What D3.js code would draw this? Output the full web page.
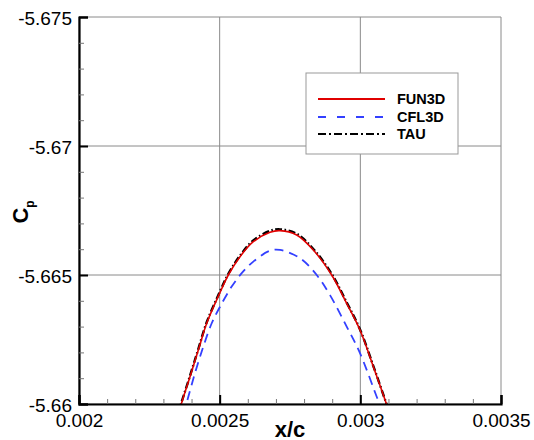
<!DOCTYPE html>
<html>
<head>
<meta charset="utf-8">
<script src="https://cdn.jsdelivr.net/npm/d3@7/dist/d3.min.js"></script>
<style>
  body { margin: 0; background: #fff; }
  svg { display: block; font-family: "Liberation Sans", Arial, Helvetica, sans-serif; }
</style>
</head>
<body>
<div id="chart"></div>
<script>
// data
var fun3dX = [0.002353, 0.002365, 0.0023946, 0.0024241, 0.0024539, 0.0024987, 0.0025307, 0.0025723, 0.0026196, 0.0026789, 0.0027145, 0.0027738, 0.0028328, 0.0028982, 0.0029515, 0.0029988, 0.0030461, 0.0030912, 0.003104];
var fun3dY = [-5.6596, -5.66005, -5.66106, -5.66209, -5.66313, -5.66426, -5.665, -5.66571, -5.66629, -5.66666, -5.66672, -5.66655, -5.66597, -5.665, -5.6639, -5.66287, -5.66145, -5.66005, -5.6596];

var cfl3dX = [0.002371, 0.0023828, 0.0024123, 0.0024418, 0.0024717, 0.0025012, 0.0025428, 0.0025783, 0.0026196, 0.0026789, 0.0027145, 0.0027855, 0.0028449, 0.0028922, 0.0029515, 0.0029988, 0.0030582, 0.0030664, 0.003071];
var cfl3dY = [-5.6596, -5.66005, -5.6612, -5.66222, -5.66313, -5.66377, -5.66455, -5.66507, -5.66552, -5.66594, -5.66597, -5.66565, -5.665, -5.66422, -5.663, -5.66197, -5.66028, -5.66005, -5.6596];

var tauX = [0.002352, 0.002364, 0.0023942, 0.0024238, 0.0024536, 0.0024985, 0.0025305, 0.0025722, 0.0026196, 0.0026789, 0.0027145, 0.0027738, 0.0028329, 0.0028984, 0.0029517, 0.002999, 0.0030463, 0.0030914, 0.003105];
var tauY = [-5.6596, -5.66005, -5.66108, -5.66212, -5.66316, -5.6643, -5.66504, -5.66575, -5.66634, -5.66671, -5.66677, -5.6666, -5.66601, -5.66504, -5.66393, -5.66289, -5.66147, -5.66005, -5.6596];

var xTicks = [0.002, 0.0025, 0.003, 0.0035];
var xTickLabels = ["0.002", "0.0025", "0.003", "0.0035"];
var yTicks = [-5.675, -5.67, -5.665, -5.66];
var yTickLabels = ["-5.675", "-5.67", "-5.665", "-5.66"];
var xMinor = [0.0021, 0.0022, 0.0023, 0.0024, 0.0026, 0.0027, 0.0028, 0.0029, 0.0031, 0.0032, 0.0033, 0.0034];
var yMinor = [-5.674, -5.673, -5.672, -5.671, -5.669, -5.668, -5.667, -5.666, -5.664, -5.663, -5.662, -5.661];

var seriesNames = ["FUN3D", "CFL3D", "TAU"];

var W = 534, H = 440;
var plotL = 79, plotR = 501, plotT = 17, plotB = 404;

var svg = d3.select("#chart").append("svg")
  .attr("width", W)
  .attr("height", H);

var x = d3.scaleLinear().domain([0.002, 0.0035]).range([plotL, plotR]);
var y = d3.scaleLinear().domain([-5.675, -5.66]).range([plotT, plotB]);

// grid
svg.append("g").selectAll("line")
  .data(xTicks)
  .enter().append("line")
  .attr("x1", function(d) { return x(d); })
  .attr("x2", function(d) { return x(d); })
  .attr("y1", plotT)
  .attr("y2", plotB)
  .attr("stroke", "#8a8a8a")
  .attr("stroke-width", 1);

svg.append("g").selectAll("line")
  .data(yTicks)
  .enter().append("line")
  .attr("x1", plotL)
  .attr("x2", plotR)
  .attr("y1", function(d) { return y(d); })
  .attr("y2", function(d) { return y(d); })
  .attr("stroke", "#8a8a8a")
  .attr("stroke-width", 1);

// curves
svg.append("defs").append("clipPath")
  .attr("id", "clip")
  .append("rect")
  .attr("x", plotL)
  .attr("y", plotT)
  .attr("width", plotR - plotL)
  .attr("height", plotB - plotT);

var line = d3.line()
  .x(function(d) { return x(d[0]); })
  .y(function(d) { return y(d[1]); })
  .curve(d3.curveCatmullRom);

var series = [
  { name: "CFL3D", xs: cfl3dX, ys: cfl3dY, color: "#3340ff", width: 1.8, dash: "9,6" },
  { name: "TAU", xs: tauX, ys: tauY, color: "#000", width: 2.4, dash: "7,2.5,1.5,2.5" },
  { name: "FUN3D", xs: fun3dX, ys: fun3dY, color: "#e00000", width: 1.6, dash: null }
];

var curves = svg.append("g").attr("clip-path", "url(#clip)");
curves.selectAll("path")
  .data(series)
  .enter().append("path")
  .attr("fill", "none")
  .attr("stroke", function(d) { return d.color; })
  .attr("stroke-width", function(d) { return d.width; })
  .attr("stroke-dasharray", function(d) { return d.dash; })
  .attr("d", function(d) {
    return line(d.xs.map(function(v, i) { return [v, d.ys[i]]; }));
  });

// axes
var xAxis = svg.append("g")
  .attr("transform", "translate(0," + plotB + ")")
  .call(d3.axisBottom(x).tickValues(xTicks).tickSize(-9).tickPadding(10)
    .tickFormat(function(d, i) { return xTickLabels[i]; }));
var xAxisMinor = svg.append("g")
  .attr("transform", "translate(0," + plotB + ")")
  .call(d3.axisBottom(x).tickValues(xMinor).tickSize(-5).tickFormat(""));

var yAxis = svg.append("g")
  .attr("transform", "translate(" + plotL + ",0)")
  .call(d3.axisLeft(y).tickValues(yTicks).tickSize(-9).tickPadding(7)
    .tickFormat(function(d, i) { return yTickLabels[i]; }));
var yAxisMinor = svg.append("g")
  .attr("transform", "translate(" + plotL + ",0)")
  .call(d3.axisLeft(y).tickValues(yMinor).tickSize(-5).tickFormat(""));

[xAxis, yAxis].forEach(function(a) {
  a.select(".domain").attr("stroke", "#000").attr("stroke-width", 2.2);
  a.selectAll(".tick line").attr("stroke", "#000").attr("stroke-width", 2);
  a.selectAll(".tick text")
    .attr("fill", "#000")
    .style("font-size", "19px")
    .style("font-family", "'Liberation Sans', Arial, sans-serif");
});
yAxis.selectAll(".tick text").attr("dy", "0.4em");
[xAxisMinor, yAxisMinor].forEach(function(a) {
  a.select(".domain").remove();
  a.selectAll(".tick line").attr("stroke", "#777").attr("stroke-width", 1);
});

// axis titles
svg.append("text")
  .attr("x", (plotL + plotR) / 2)
  .attr("y", 437)
  .attr("text-anchor", "middle")
  .style("font-size", "22px")
  .style("font-weight", "bold")
  .text("x/c");

var cp = svg.append("text")
  .attr("transform", "translate(28,212) rotate(-90)")
  .attr("text-anchor", "middle")
  .style("font-size", "22px")
  .style("font-weight", "bold");
cp.append("tspan").text("C");
cp.append("tspan").attr("dy", 6).style("font-size", "12px").text("p");

// legend
var legend = svg.append("g");
legend.append("rect")
  .attr("x", 306)
  .attr("y", 73)
  .attr("width", 152)
  .attr("height", 81)
  .attr("fill", "#fff")
  .attr("stroke", "#999")
  .attr("stroke-width", 1);

var legendRows = [
  { name: seriesNames[0], color: "#e00000", width: 2, dash: null },
  { name: seriesNames[1], color: "#3340ff", width: 2, dash: "8,11" },
  { name: seriesNames[2], color: "#000", width: 2, dash: "8,3,2,3" }
];
var rowY = [99, 117, 134];

legend.selectAll(".lline")
  .data(legendRows)
  .enter().append("line")
  .attr("class", "lline")
  .attr("x1", 318)
  .attr("x2", 385)
  .attr("y1", function(d, i) { return rowY[i]; })
  .attr("y2", function(d, i) { return rowY[i]; })
  .attr("stroke", function(d) { return d.color; })
  .attr("stroke-width", function(d) { return d.width; })
  .attr("stroke-dasharray", function(d) { return d.dash; });

legend.selectAll(".ltext")
  .data(legendRows)
  .enter().append("text")
  .attr("class", "ltext")
  .attr("x", 397)
  .attr("y", function(d, i) { return rowY[i] + 5; })
  .style("font-size", "14.5px")
  .style("font-weight", "bold")
  .text(function(d) { return d.name; });
</script>
</body>
</html>
